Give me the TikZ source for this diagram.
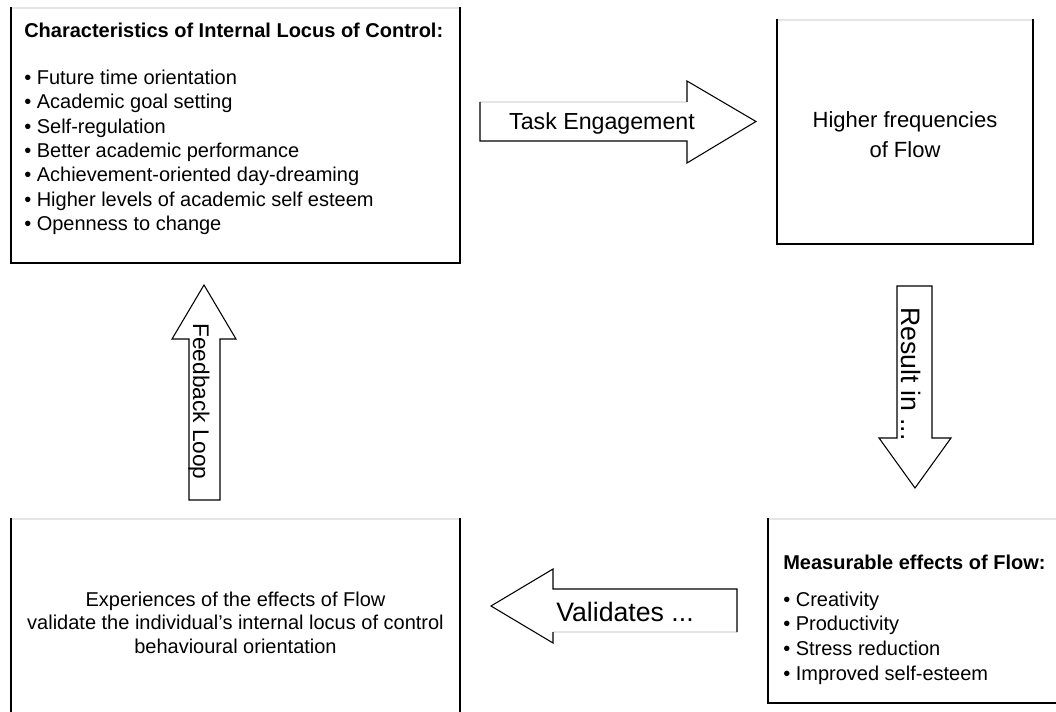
\documentclass[tikz,border=0pt]{standalone}
\usepackage{fontspec}
\setmainfont{Liberation Sans}
\usetikzlibrary{fit}
\begin{document}
\begin{tikzpicture}[x=0.75pt,y=-0.75pt,
  boxline/.style={line width=1.5pt, line cap=rect, line join=miter},
  faint/.style={line width=1pt, draw=black!10},
  blockarrow/.style={draw=black, line width=0.8pt, line join=miter},
  area/.style={inner sep=0pt, outer sep=0pt},
  bodytext/.style={inner sep=0pt, font=\fontsize{15}{18.3}\selectfont},
  arrowtext/.style={inner sep=0pt}]
\useasboundingbox (0,0) rectangle (1056,712);
\clip (0,0) rectangle (1056,712);

% box corners
\coordinate (a1) at (11,8);    \coordinate (a2) at (460,263);
\coordinate (b1) at (777,20);  \coordinate (b2) at (1033,244);
\coordinate (c1) at (768,519); \coordinate (c2) at (1080,703);
\coordinate (d1) at (11,519);  \coordinate (d2) at (460,740);

\node[area, fit=(a1)(a2)] (A) {};
\node[area, fit=(b1)(b2)] (B) {};
\node[area, fit=(c1)(c2)] (C) {};
\node[area, fit=(d1)(d2)] (D) {};

% box outlines: dark sides and bottom, faint top
\foreach \n in {A,B,C,D}{
  \draw[faint] (\n.north west) -- (\n.north east);
  \draw[boxline] (\n.north west) -- (\n.south west) -- (\n.south east) -- (\n.north east);
}

% texts in boxes
\node[bodytext, anchor=north west, align=left] (Atext) at (24,22.4)
  {\textbf{Characteristics of Internal Locus of Control:}\\[17pt]
   • Future time orientation\\
   • Academic goal setting\\
   • Self-regulation\\
   • Better academic performance\\
   • Achievement-oriented day-dreaming\\
   • Higher levels of academic self esteem\\
   • Openness to change};

\node[inner sep=0pt, align=center, font=\fontsize{16.5}{22.5}\selectfont] (Btext) at (905,135)
  {Higher frequencies\\of Flow};

\node[bodytext, anchor=north west, align=left, font=\fontsize{15}{18.5}\selectfont] (Ctext) at (783,554.4)
  {\textbf{Measurable effects of Flow:}\\[9.2pt]
   • Creativity\\
   • Productivity\\
   • Stress reduction\\
   • Improved self-esteem};

\node[inner sep=0pt, align=center, font=\fontsize{15}{17.6}\selectfont] (Dtext) at (235.5,622.5)
  {Experiences of the effects of Flow\\
   validate the individual’s internal locus of control\\
   behavioural orientation};

% block arrows
% Task Engagement (right)
\coordinate (t1) at (480,102); \coordinate (t2) at (687,102);
\coordinate (t3) at (687,81);  \coordinate (t4) at (756,121.5);
\coordinate (t5) at (687,163); \coordinate (t6) at (687,141);
\coordinate (t7) at (480,141);
\draw[faint] (t1) -- (t2);
\draw[blockarrow] (t2) -- (t3) -- (t4) -- (t5) -- (t6) -- (t7) -- (t1);
\node[arrowtext, font=\fontsize{17.4}{20}\selectfont] (te) at (602,124) {Task Engagement};

% Result in (down)
\coordinate (r1) at (897,286); \coordinate (r2) at (932,286);
\coordinate (r3) at (932,438); \coordinate (r4) at (951,438);
\coordinate (r5) at (915,488); \coordinate (r6) at (879,438);
\coordinate (r7) at (897,438);
\draw[blockarrow] (r1) -- (r2) -- (r3) -- (r4) -- (r5) -- (r6) -- (r7) -- cycle;
\node[arrowtext, rotate=-90, font=\fontsize{20}{24}\selectfont] (ri) at (911,374) {Result in ...};

% Validates (left)
\coordinate (v1) at (737,632); \coordinate (v2) at (553,632);
\coordinate (v3) at (553,643); \coordinate (v4) at (491,606);
\coordinate (v5) at (553,569); \coordinate (v6) at (553,589);
\coordinate (v7) at (737,589);
\draw[faint] (v1) -- (v2);
\draw[blockarrow] (v2) -- (v3) -- (v4) -- (v5) -- (v6) -- (v7) -- (v1);
\node[arrowtext, font=\fontsize{20}{24}\selectfont] (va) at (625,612) {Validates ...};

% Feedback Loop (up)
\coordinate (f1) at (189,500); \coordinate (f2) at (189,339);
\coordinate (f3) at (172,339); \coordinate (f4) at (204,285);
\coordinate (f5) at (236,339); \coordinate (f6) at (220,339);
\coordinate (f7) at (220,500);
\draw[blockarrow] (f1) -- (f2) -- (f3) -- (f4) -- (f5) -- (f6) -- (f7) -- cycle;
\node[arrowtext, rotate=-90, font=\fontsize{17}{20}\selectfont] (fl) at (199,401.5) {Feedback Loop};
\end{tikzpicture}
\end{document}
